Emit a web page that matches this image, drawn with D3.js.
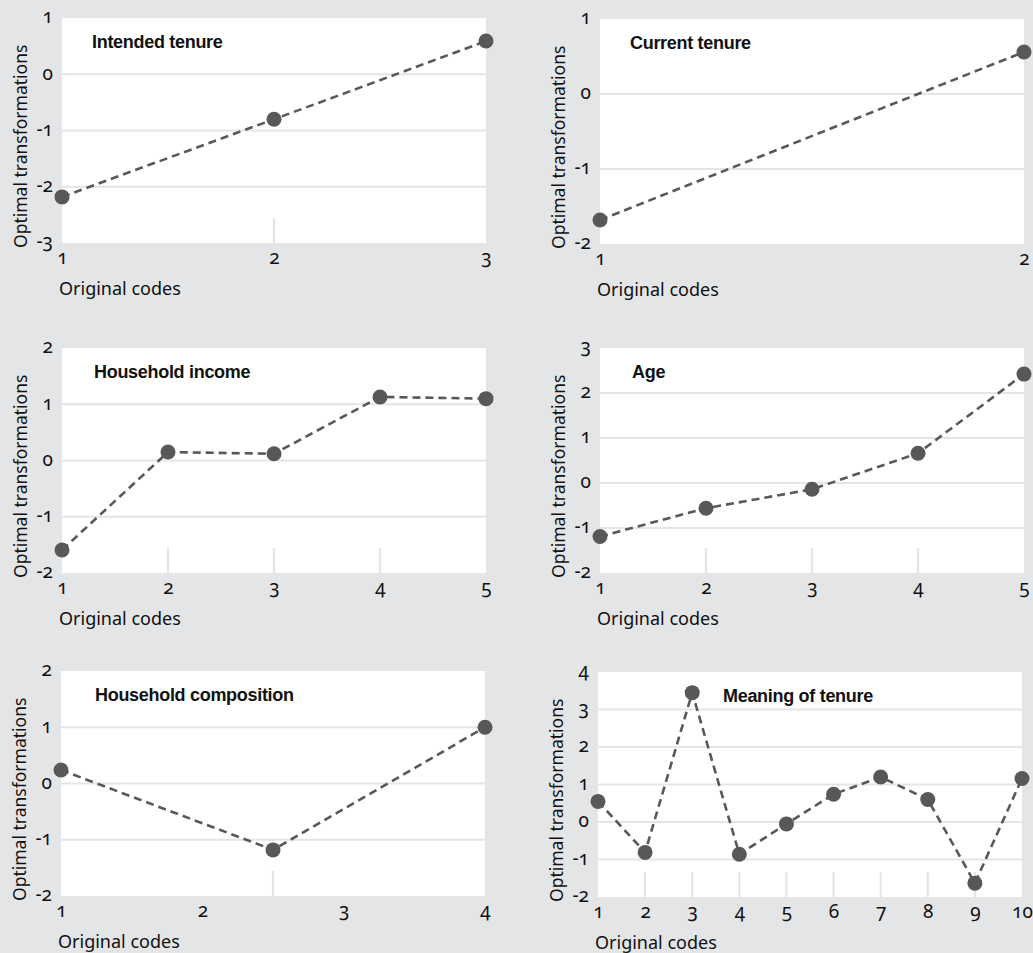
<!DOCTYPE html>
<html>
<head>
<meta charset="utf-8">
<script src="https://cdn.jsdelivr.net/npm/d3@7"></script>
<style>
  html, body { margin: 0; padding: 0; background: #e4e5e7; }
  svg { display: block; }
  .tick text { font-family: "Noto Sans", sans-serif; font-variant-numeric: oldstyle-nums; font-feature-settings: "onum"; fill: #111; }
</style>
</head>
<body>
<svg id="chart" width="1033" height="953"></svg>
<script>
// ---- data ----
const panelTitles = ["Intended tenure", "Current tenure", "Household income", "Age", "Household composition", "Meaning of tenure"];

const intendedCodes = [1, 2, 3];
const intendedValues = [-2.18, -0.8, 0.59];

const currentCodes = [1, 2];
const currentValues = [-1.68, 0.56];

const incomeCodes = [1, 2, 3, 4, 5];
const incomeValues = [-1.59, 0.15, 0.12, 1.13, 1.10];

const ageCodes = [1, 2, 3, 4, 5];
const ageValues = [-1.19, -0.56, -0.14, 0.66, 2.42];

const compositionCodes = [1, 2.5, 4];
const compositionValues = [0.24, -1.18, 1.0];

const meaningCodes = [1, 2, 3, 4, 5, 6, 7, 8, 9, 10];
const meaningValues = [0.55, -0.81, 3.45, -0.86, -0.05, 0.74, 1.2, 0.6, -1.63, 1.16];

const xTickLabels = [[1, 2, 3], [1, 2], [1, 2, 3, 4, 5], [1, 2, 3, 4, 5], [1, 2, 3, 4], [1, 2, 3, 4, 5, 6, 7, 8, 9, 10]];
const yTickLabels = [[-3, -2, -1, 0, 1], [-2, -1, 0, 1], [-2, -1, 0, 1, 2], [-2, -1, 0, 1, 2, 3], [-2, -1, 0, 1, 2], [-2, -1, 0, 1, 2, 3, 4]];

const xAxisTitle = "Original codes";
const yAxisTitle = "Optimal transformations";

// ---- layout ----
const layout = [
  { left: 62,  top: 18,  w: 424, h: 225, titleDx: 30 },
  { left: 600, top: 19,  w: 424, h: 225, titleDx: 30 },
  { left: 62,  top: 348, w: 424, h: 225, titleDx: 32 },
  { left: 600, top: 348, w: 424, h: 225, titleDx: 32 },
  { left: 61,  top: 671, w: 424, h: 225, titleDx: 34 },
  { left: 598, top: 672, w: 424, h: 225, titleDx: 125 }
];
const seriesX = [intendedCodes, currentCodes, incomeCodes, ageCodes, compositionCodes, meaningCodes];
const seriesY = [intendedValues, currentValues, incomeValues, ageValues, compositionValues, meaningValues];

const bg = "#e4e5e7";
const grid = "#e4e5e7";
const markColor = "#58585b";
const fmt = d => String(d);

const svg = d3.select("#chart");
svg.append("rect").attr("width", 1033).attr("height", 953).attr("fill", bg);

panelTitles.forEach((title, i) => {
  const L = layout[i];
  const xt = xTickLabels[i], yt = yTickLabels[i];
  const x = d3.scaleLinear().domain([d3.min(xt), d3.max(xt)]).range([0, L.w]);
  const y = d3.scaleLinear().domain([d3.min(yt), d3.max(yt)]).range([L.h, 0]);
  const g = svg.append("g").attr("transform", `translate(${L.left},${L.top})`);

  g.append("rect").attr("width", L.w).attr("height", L.h).attr("fill", "#fff");

  // horizontal gridlines (interior ticks)
  g.selectAll(".hgrid").data(yt.slice(1, -1)).enter().append("line")
    .attr("x1", 0).attr("x2", L.w)
    .attr("y1", d => y(d)).attr("y2", d => y(d))
    .attr("stroke", grid).attr("stroke-width", 2.2);

  // short vertical tick lines at interior data codes
  const xs = seriesX[i];
  g.selectAll(".vtick").data(xs.slice(1, -1)).enter().append("line")
    .attr("x1", d => x(d)).attr("x2", d => x(d))
    .attr("y1", L.h).attr("y2", L.h - 25)
    .attr("stroke", grid).attr("stroke-width", 2.2);

  // y axis
  const ya = g.append("g").call(d3.axisLeft(y).tickValues(yt).tickSize(0).tickPadding(9).tickFormat(fmt));
  ya.select(".domain").remove();
  ya.selectAll("text").attr("font-size", 19).attr("dy", "0.25em");

  // x axis
  const xa = g.append("g").attr("transform", `translate(0,${L.h})`)
    .call(d3.axisBottom(x).tickValues(xt).tickSize(0).tickPadding(8).tickFormat(fmt));
  xa.select(".domain").remove();
  xa.selectAll("text").attr("font-size", 19);

  // axis titles
  g.append("text").attr("x", -3).attr("y", L.h + 52)
    .attr("font-family", "Noto Sans, sans-serif").attr("font-size", 18).attr("fill", "#111")
    .text(xAxisTitle);
  g.append("text").attr("transform", `translate(-35,${L.h + 5}) rotate(-90)`)
    .attr("font-family", "Noto Sans, sans-serif").attr("font-size", 17.5).attr("fill", "#111")
    .text(yAxisTitle);

  // panel title
  g.append("text").attr("x", L.titleDx).attr("y", 30)
    .attr("font-family", "Liberation Sans, Arial, sans-serif").attr("font-weight", "bold")
    .attr("font-size", 18).attr("letter-spacing", -0.3).attr("fill", "#111")
    .text(title);

  // line + points
  const pts = xs.map((c, k) => [c, seriesY[i][k]]);
  g.append("path").datum(pts)
    .attr("d", d3.line().x(d => x(d[0])).y(d => y(d[1])))
    .attr("fill", "none").attr("stroke", markColor).attr("stroke-width", 2.6)
    .attr("stroke-dasharray", "8,5");
  g.selectAll(".pt").data(pts).enter().append("circle")
    .attr("cx", d => x(d[0])).attr("cy", d => y(d[1])).attr("r", 7.5)
    .attr("fill", markColor);
});
</script>
</body>
</html>
